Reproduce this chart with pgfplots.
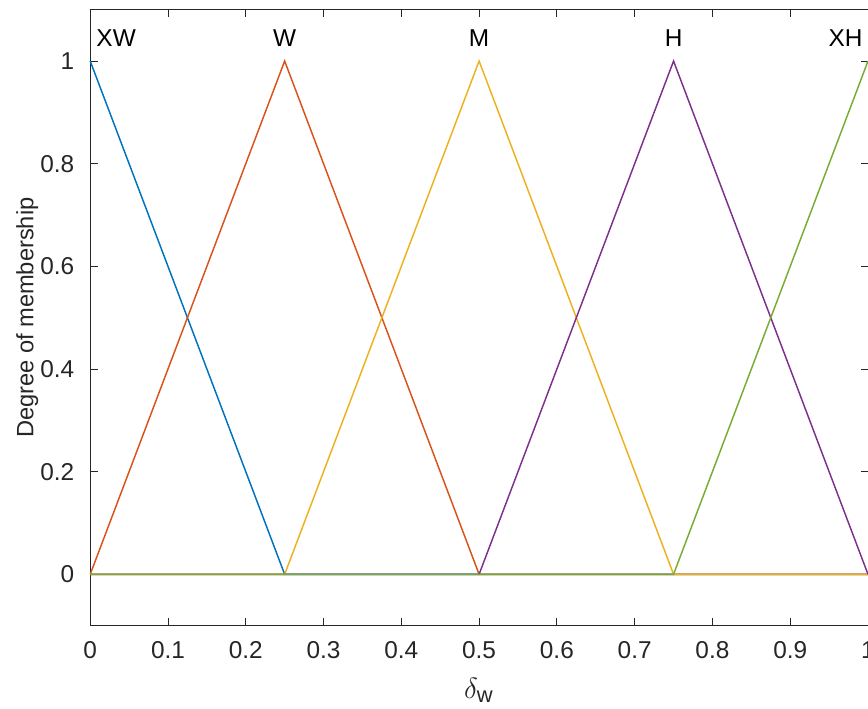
\documentclass[border=0pt]{standalone}
\usepackage{pgfplots}
\pgfplotsset{compat=1.18}
\usepackage{fontspec}
\setmainfont{Liberation Sans}
\usetikzlibrary{calc}
\definecolor{mblue}{HTML}{0072BD}
\definecolor{morange}{HTML}{D95319}
\definecolor{myellow}{HTML}{EDB120}
\definecolor{mpurple}{HTML}{7E2F8E}
\definecolor{mgreen}{HTML}{77AC30}
\definecolor{axgray}{gray}{0.15}
\begin{document}
\begin{tikzpicture}
\begin{axis}[
  scale only axis, width=319pt, height=252.6pt,
  xmin=0, xmax=1, ymin=-0.1, ymax=1.1,
  xtick={0,0.1,...,1}, ytick={0,0.2,...,1},
  xticklabels={0,0.1,0.2,0.3,0.4,0.5,0.6,0.7,0.8,0.9,1},
  yticklabels={0,0.2,0.4,0.6,0.8,1},
  tick align=inside, tick pos=both,
  major tick length=3pt,
  axis line style={axgray, line width=0.4pt},
  every tick/.style={axgray, line width=0.4pt},
  tick label style={axgray, font=\fontsize{10}{12}\selectfont},
  /pgf/number format/assume math mode=true,
  xticklabel style={yshift=-3pt},
  yticklabel style={xshift=-3pt},
  xlabel={$\delta_{\mbox{\small w}}$},
  ylabel={Degree of membership},
  label style={axgray, font=\fontsize{10}{12}\selectfont},
  xlabel style={yshift=-1pt, font=\fontsize{11.5}{13}\selectfont},
  ylabel style={yshift=-6pt, font=\fontsize{9.7}{12}\selectfont},
  every axis plot/.append style={line width=0.6pt},
  clip=false,
]
\addplot[mblue] coordinates {(0,1) (0.25,0) (1,0)};
\addplot[morange] coordinates {(0,0) (0.25,1) (0.5,0) (1,0)};
\addplot[myellow] coordinates {(0,0) (0.25,0) (0.5,1) (0.75,0) (1,0)};
\addplot[mpurple] coordinates {(0,0) (0.5,0) (0.75,1) (1,0)};
\addplot[mgreen] coordinates {(0,0) (0.75,0) (1,1)};
\node[anchor=west, font=\fontsize{10}{12}\selectfont] at (axis cs:-0.003,1.045) {XW};
\node[font=\fontsize{10}{12}\selectfont] at (axis cs:0.25,1.045) {W};
\node[font=\fontsize{10}{12}\selectfont] at (axis cs:0.5,1.045) {M};
\node[font=\fontsize{10}{12}\selectfont] at (axis cs:0.75,1.045) {H};
\node[anchor=east, font=\fontsize{10}{12}\selectfont] at (axis cs:1.004,1.045) {XH};
\end{axis}
\pgfresetboundingbox
\path[use as bounding box] ($(current axis.south west)+(-37pt,-34pt)$) rectangle ($(current axis.north east)+(0,4pt)$);
\end{tikzpicture}
\end{document}
